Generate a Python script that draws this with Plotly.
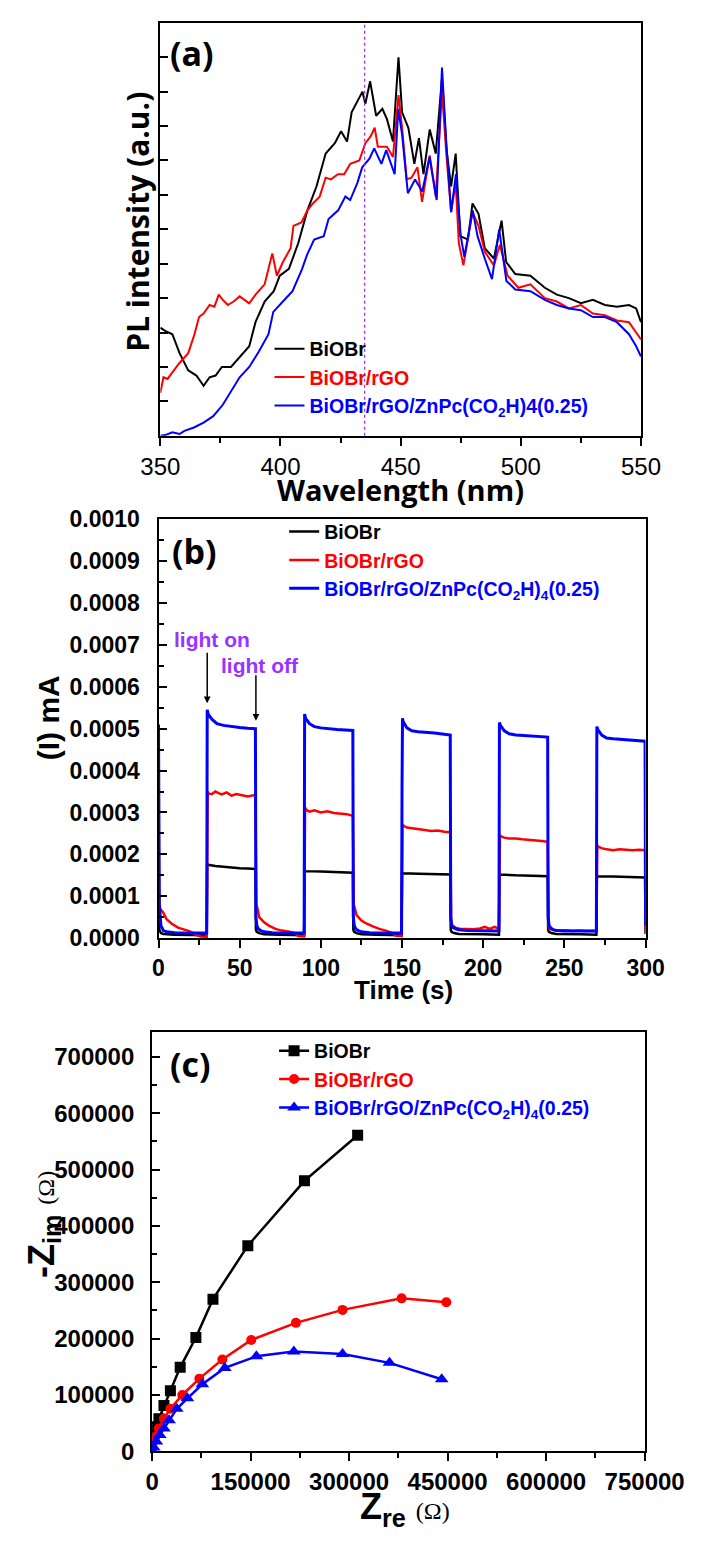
import plotly.graph_objects as go

W, H = 725, 1542

# ---------------- (a) PL spectra ----------------
pl_wl_black = [350, 352, 355, 358, 361.6, 365, 368, 370.5, 373, 375.6, 379.4, 383, 387, 389.6, 393.4, 397.2,
               399.7, 403.5, 407.4, 411.2, 415, 418.8, 422.6, 425.2, 427.7, 429.6, 432, 434.1, 435.3, 437.3,
               439.8, 442.4, 444.3, 446.8, 449.1, 450.6, 453.2, 455.7, 457.6, 459.5, 462.1, 464.6, 467.2,
               469.1, 471, 472.9, 474.8, 478, 479.9, 482.4, 485, 488.8, 492, 493.9, 497.7, 504, 510, 515,
               520, 525, 530, 535, 540, 545, 548, 550]
pl_int_black = [3.14, 3.05, 2.95, 2.4, 1.9, 1.75, 1.45, 1.7, 1.75, 2.0, 2.0, 2.3, 2.6, 3.3, 3.9, 4.2,
                4.65, 4.85, 5.6, 6.55, 7.25, 8.2, 8.5, 8.85, 8.55, 9.4, 9.7, 10.0, 9.65, 10.3,
                9.3, 9.5, 9.2, 8.55, 11.0, 9.4, 8.95, 7.9, 8.65, 7.6, 8.9, 8.2, 10.4,
                8.3, 7.25, 8.2, 5.8, 5.7, 6.75, 6.45, 5.45, 5.15, 6.25, 5.05, 4.7, 4.65, 4.3, 4.1,
                4.0, 3.85, 3.95, 3.8, 3.75, 3.8, 3.7, 3.3]

pl_wl_red = [350, 351.3, 353, 355, 357.8, 361.6, 364.2, 366.1, 368, 370.5, 372.5, 374.3, 376, 378.1, 380.5,
             383, 385, 387, 389.6, 393.4, 396.6, 398.5, 401, 404.2, 405.4, 408.7, 411.2, 413.5, 416.3,
             418.8, 421, 423.9, 426.5, 429, 432.8, 435.3, 437.5, 439.2, 440.5, 444.3, 446.8, 449.1,
             450.6, 452.5, 454.5, 457, 458.9, 462.1, 464.6, 467.2, 469.1, 471, 472.9, 474.2, 476.1,
             479.9, 482.4, 485, 488.8, 491.3, 494.5, 499, 504, 510, 515, 520, 525, 530, 535, 540, 545, 550]
pl_int_red = [1.25, 1.7, 1.65, 1.85, 2.1, 2.4, 2.95, 3.45, 3.55, 3.8, 3.75, 4.1, 3.95, 3.8, 3.9,
              4.05, 3.95, 3.85, 4.1, 4.4, 5.3, 4.65, 5.05, 5.45, 6.1, 6.2, 6.55, 6.75, 6.95,
              7.5, 7.45, 7.6, 7.6, 7.9, 8.0, 8.5, 8.7, 8.95, 8.4, 8.4, 8.1, 9.9,
              8.95, 7.45, 7.5, 7.8, 6.8, 8.15, 6.95, 10.0, 8.1, 6.5, 7.35, 5.6, 4.95,
              6.5, 6.1, 5.35, 4.95, 5.55, 4.65, 4.3, 4.4, 4.0, 3.9, 3.7, 3.8, 3.55, 3.5, 3.35, 3.3, 2.8]

pl_wl_blue = [350, 352, 355, 358, 360, 364, 368, 372, 376, 379, 383, 387, 391, 395, 397, 401, 405, 409,
              411, 414, 418, 420, 424, 427, 429, 432, 434, 437, 439, 442, 444, 447.5, 449, 450.6, 453,
              456, 459, 462, 465, 467.2, 469, 471, 473, 475, 476.5, 480, 482, 485, 488, 491, 494, 497.7,
              504, 510, 515, 520, 525, 530, 535, 540, 545, 548, 550]
pl_int_blue = [0.0, 0.02, 0.1, 0.05, 0.14, 0.24, 0.38, 0.57, 0.9, 1.24, 1.7, 2.0, 2.45, 2.95, 3.6, 3.9, 4.2, 4.85,
               5.25, 5.7, 5.8, 6.3, 6.55, 6.95, 6.85, 7.35, 7.8, 8.05, 8.35, 7.9, 8.3, 7.6, 9.5, 8.75, 7.05,
               7.45, 7.1, 8.1, 6.85, 10.7, 8.5, 6.5, 7.6, 5.8, 5.2, 6.55, 5.8, 5.15, 4.55, 6.0, 4.5, 4.25,
               4.2, 3.95, 3.8, 3.7, 3.65, 3.45, 3.45, 3.3, 2.95, 2.6, 2.3]
pl_marker_wavelength = 435

# ---------------- (b) photocurrent ----------------
it_t_black = [0, 0.5, 1.5, 3, 10, 20, 29.7,
              30, 30.5, 35, 40, 45, 50, 55, 59.7,
              60, 60.5, 62, 65, 75, 89.7,
              90, 90.5, 100, 110, 119.7,
              120, 120.5, 122, 125, 135, 149.7,
              150, 150.5, 160, 170, 179.7,
              180, 180.5, 182, 185, 200, 209.7,
              210, 210.5, 220, 230, 239.7,
              240, 240.5, 242, 245, 260, 269.7,
              270, 270.5, 280, 290, 299.7, 300]
it_i_black = [0.00016, 0.00002, 0.000012, 0.00001, 0.000008, 0.000007, 0.000007,
              0.000176, 0.000175, 0.000172, 0.00017, 0.000169, 0.000167, 0.000166, 0.000165,
              0.00002, 0.000015, 0.000012, 0.000009, 0.000008, 0.000007,
              0.000161, 0.00016, 0.000159, 0.000158, 0.000156,
              0.00002, 0.000015, 0.000012, 0.000009, 0.000008, 0.000007,
              0.000156, 0.000155, 0.000154, 0.000153, 0.000152,
              0.00002, 0.000015, 0.000012, 0.00001, 0.000009, 0.000008,
              0.000153, 0.000152, 0.00015, 0.000149, 0.000148,
              0.00002, 0.000015, 0.000012, 0.00001, 0.000009, 0.000008,
              0.000149, 0.000148, 0.000147, 0.000146, 0.000145, 0.00001]

it_t_red = [0, 0.4, 1, 3, 5, 8, 12, 15, 18, 20, 23, 26, 29.7,
            30.3, 31, 33, 35, 37, 39, 42, 45, 48, 51, 55, 59.7,
            60.3, 61, 62, 65, 68, 72, 76, 80, 84, 86, 89.7,
            90.3, 91, 93, 96, 100, 104, 108, 112, 116, 119.7,
            120.3, 121, 122, 125, 128, 132, 136, 140, 144, 146, 149.7,
            150.3, 151, 153, 156, 160, 164, 168, 172, 176, 179.7,
            180.3, 181, 183, 186, 190, 194, 198, 201, 204, 207, 209.7,
            210.3, 211, 213, 216, 220, 224, 228, 232, 236, 239.7,
            240.3, 241, 243, 247, 251, 255, 259, 263, 267, 269.7,
            270.3, 271, 273, 276, 280, 284, 288, 292, 296, 299.7, 300]
it_i_red = [0.00036, 0.00009, 0.00007, 0.00006, 0.000045, 0.000035, 0.000025, 0.000022, 0.000018, 0.000015, 0.000008, 0.000004, 0.000003,
            0.00035, 0.000345, 0.000344, 0.00035, 0.000346, 0.000343, 0.000348, 0.00034, 0.000344, 0.000341, 0.000338, 0.000342,
            0.00008, 0.00007, 0.00005, 0.000038, 0.00003, 0.000022, 0.000018, 0.000016, 0.000012, 0.000005, 0.000004,
            0.000312, 0.000306, 0.000302, 0.000305, 0.0003, 0.000303, 0.000299, 0.000298, 0.000296, 0.000292,
            0.00008, 0.00007, 0.000055, 0.000042, 0.000035, 0.000028, 0.000022, 0.000018, 0.000012, 0.000006, 0.000005,
            0.000272, 0.000268, 0.000264, 0.000262, 0.00026, 0.000258, 0.000256, 0.000257, 0.000254, 0.000253,
            0.00004, 0.00003, 0.000025, 0.000022, 0.000022, 0.000021, 0.000023, 0.000027, 0.000022, 0.000027, 0.000022,
            0.000246, 0.000243, 0.00024, 0.000238, 0.000238, 0.000236, 0.000235, 0.000233, 0.000232, 0.00023,
            0.00003, 0.000022, 0.00002, 0.000018, 0.000019, 0.000017, 0.000018, 0.000017, 0.000018, 0.000017,
            0.000222, 0.000218, 0.000215, 0.000212, 0.00021, 0.000212, 0.000211, 0.00021, 0.000211, 0.00021, 0.00002]

it_t_blue = [0, 0.5, 1.5, 3, 5, 10, 20, 29.7,
             30, 30.6, 33, 36, 40, 45, 50, 55, 59.7,
             60, 60.6, 61.5, 63, 65, 70, 80, 89.7,
             90, 90.6, 93, 96, 100, 110, 119.7,
             120, 120.6, 121.5, 123, 125, 130, 140, 149.7,
             150, 150.3, 150.6, 153, 156, 160, 170, 179.7,
             180, 180.6, 181.5, 183, 185, 190, 200, 209.7,
             210, 210.6, 213, 216, 220, 230, 239.7,
             240, 240.6, 241.5, 243, 245, 250, 260, 269.7,
             270, 270.6, 273, 276, 280, 290, 299.7, 300]
it_i_blue = [0.00051, 0.00008, 0.00003, 0.000018, 0.000015, 0.000013, 0.000012, 0.000012,
             0.000545, 0.000535, 0.000522, 0.000512, 0.000508, 0.000505, 0.000503, 0.000501, 0.0005,
             0.00005, 0.00003, 0.000022, 0.000018, 0.000015, 0.000013, 0.000012, 0.000012,
             0.000535, 0.000525, 0.000512, 0.000505, 0.000502, 0.000498, 0.000496,
             0.00005, 0.00003, 0.000022, 0.000018, 0.000015, 0.000013, 0.000012, 0.000012,
             0.00036, 0.000525, 0.000518, 0.000502, 0.000495, 0.000493, 0.00049, 0.000485,
             0.00005, 0.00003, 0.000025, 0.000022, 0.00002, 0.000018, 0.000017, 0.000017,
             0.000515, 0.000508, 0.000495, 0.000488, 0.000485, 0.000482, 0.00048,
             0.00005, 0.00003, 0.000025, 0.00002, 0.000018, 0.000017, 0.000017, 0.000017,
             0.000505, 0.000498, 0.000485, 0.000478, 0.000476, 0.000473, 0.00047, 0.00003]
light_on_t, light_on_tip = 30, 0.000561
light_off_t, light_off_tip = 60, 0.000519

# ---------------- (c) Nyquist ----------------
eis_zre_black = [1500, 5200, 10400, 18100, 27900, 42800, 66700, 92700, 145800, 232000, 313000]
eis_zim_black = [28000, 43600, 58000, 81400, 107600, 149000, 202000, 270000, 365000, 480000, 561000]
eis_zre_red = [1000, 5000, 10400, 18000, 27900, 46000, 72000, 107000, 151000, 219000, 290000, 380000, 448000]
eis_zim_red = [16000, 26000, 40700, 58000, 75600, 100000, 129000, 163000, 197700, 228000, 251000, 271500, 264500]
eis_zre_blue = [600, 2600, 6500, 11700, 18100, 25900, 37600, 53800, 76500, 110800, 158800, 215800, 290000, 361500, 441000]
eis_zim_blue = [0, 7000, 17400, 29000, 40700, 55000, 75600, 94000, 119000, 148000, 168600, 177300, 172700, 157000, 128000]

colors = ["#000000", "#ff0000", "#0000ff"]
names_a = ["BiOBr", "BiOBr/rGO", "BiOBr/rGO/ZnPc(CO<sub>2</sub>H)4(0.25)"]
names_bc = ["BiOBr", "BiOBr/rGO", "BiOBr/rGO/ZnPc(CO<sub>2</sub>H)<sub>4</sub>(0.25)"]


def px(x):
    return x / W


def py(y):
    return 1 - y / H


def colored(name, c):
    return f"<span style='color:{c}'>{name}</span>"


fig = go.Figure()

# (a)
for xs, ys, c, n in zip([pl_wl_black, pl_wl_red, pl_wl_blue], [pl_int_black, pl_int_red, pl_int_blue], colors, names_a):
    fig.add_trace(go.Scatter(x=xs, y=ys, mode="lines", line=dict(color=c, width=2),
                             name=colored(n, c), xaxis="x", yaxis="y", legend="legend"))
# (b)
for xs, ys, c, n, w in zip([it_t_black, it_t_red, it_t_blue], [it_i_black, it_i_red, it_i_blue], colors, names_bc,
                           [2.5, 2.5, 3]):
    fig.add_trace(go.Scatter(x=xs, y=ys, mode="lines", line=dict(color=c, width=w),
                             name=colored(n, c), xaxis="x2", yaxis="y2", legend="legend2"))
# (c)
for xs, ys, c, n, sym, sz in zip([eis_zre_black, eis_zre_red, eis_zre_blue], [eis_zim_black, eis_zim_red, eis_zim_blue],
                                 colors, names_bc, ["square", "circle", "triangle-up"], [11, 10, 12]):
    fig.add_trace(go.Scatter(x=xs, y=ys, mode="lines+markers", line=dict(color=c, width=2.5),
                             marker=dict(symbol=sym, size=sz, color=c),
                             name=colored(n, c), xaxis="x3", yaxis="y3", legend="legend3"))

# dotted marker line in (a)
fig.add_shape(type="line", xref="x", yref="y domain", x0=pl_marker_wavelength, x1=pl_marker_wavelength,
              y0=0, y1=1, line=dict(color="#9933ff", width=1.3, dash="dot"))

base = dict(showline=True, linecolor="black", linewidth=2, mirror=True, showgrid=False, zeroline=False,
            tickcolor="black", tickwidth=2)
reg = dict(family="Liberation Sans", size=24, color="black")
bold23 = dict(family="Liberation Sans", size=23, color="black", weight="bold")
bold24 = dict(family="Liberation Sans", size=24, color="black", weight="bold")
legfont = dict(family="Liberation Sans", size=19.5, weight="bold")

fig.update_layout(
    width=W, height=H, margin=dict(l=0, r=0, t=0, b=0),
    paper_bgcolor="white", plot_bgcolor="white", showlegend=True,
    xaxis=dict(base, domain=[px(153), px(677)], range=[350, 550], anchor="y", tick0=350, dtick=50,
               ticks="outside", ticklen=8, tickfont=reg,
               minor=dict(dtick=25, ticks="outside", ticklen=5, tickwidth=2, tickcolor="black")),
    yaxis=dict(base, domain=[py(430), py(10)], range=[0, 12], anchor="x", tick0=0, dtick=1,
               ticks="inside", ticklen=8, showticklabels=False),
    xaxis2=dict(base, domain=[px(151), px(682)], range=[0, 300], anchor="y2", tick0=0, dtick=50,
                ticks="outside", ticklen=8, tickfont=bold23,
                minor=dict(dtick=25, ticks="outside", ticklen=5, tickwidth=2, tickcolor="black")),
    yaxis2=dict(base, domain=[py(941), py(515)], range=[0, 0.001], anchor="x2", tick0=0, dtick=0.0001,
                tickformat=".4f", ticks="inside", ticklen=8, tickfont=bold23, ticklabelstandoff=12,
                minor=dict(dtick=0.00005, ticks="inside", ticklen=5, tickwidth=2, tickcolor="black")),
    xaxis3=dict(base, domain=[px(144), px(681)], range=[0, 750000], anchor="y3", tick0=0, dtick=150000,
                tickformat="d", ticks="outside", ticklen=8, tickfont=bold24,
                minor=dict(dtick=75000, ticks="outside", ticklen=5, tickwidth=2, tickcolor="black")),
    yaxis3=dict(base, domain=[py(1463), py(1036)], range=[0, 745000], anchor="x3", tick0=0, dtick=100000,
                tickformat="d", ticks="inside", ticklen=8, tickfont=bold24, ticklabelstandoff=11,
                minor=dict(dtick=50000, ticks="inside", ticklen=5, tickwidth=2, tickcolor="black")),
    legend=dict(x=px(272), y=py(322), xanchor="left", yanchor="top", bgcolor="rgba(0,0,0,0)",
                font=legfont, itemwidth=30, tracegroupgap=0),
    legend2=dict(x=px(288), y=py(508), xanchor="left", yanchor="top", bgcolor="rgba(0,0,0,0)",
                 font=legfont, itemwidth=30, tracegroupgap=0),
    legend3=dict(x=px(277), y=py(1036), xanchor="left", yanchor="top", bgcolor="rgba(0,0,0,0)",
                 font=legfont, itemwidth=30, tracegroupgap=0),
)

ann = []


def text_ann(txt, x, y, size, family="Liberation Sans", angle=0, color="black", weight="bold"):
    ann.append(dict(text=txt, x=px(x), y=py(y), xref="paper", yref="paper", xanchor="center", yanchor="middle",
                    showarrow=False, textangle=angle,
                    font=dict(family=family, size=size, color=color, weight=weight)))


# panel letters
text_ann("(a)", 187, 41, 34, family="Open Sans")
text_ann("(b)", 190, 547, 34, family="Open Sans")
text_ann("(c)", 186, 1069, 34, family="Open Sans")
# axis titles
text_ann("PL intensity (a.u.)", 128, 212, 30, family="Open Sans", angle=-90)
text_ann("Wavelength (nm)", 415, 485, 29, family="Open Sans")
text_ann("(I) mA", 32, 717, 30, angle=-90)
text_ann("Time (s)", 418, 994, 26)
omega = "<span style='font-family:Liberation Serif;font-size:24px;font-weight:normal'>(Ω)</span>"
text_ann("-Z<sub>im</sub> " + omega, 26, 1232, 36, angle=-90)
text_ann("Z<sub>re</sub> " + omega, 420, 1522, 36)
# light on / off
text_ann("light on", 209, 637, 21, color="#9933ff")
text_ann("light off", 262, 664, 21, color="#9933ff")
for t, tip, length in [(light_on_t, light_on_tip, 52), (light_off_t, light_off_tip, 47)]:
    ann.append(dict(x=t, y=tip, xref="x2", yref="y2", ax=0, ay=-length, axref="pixel", ayref="pixel",
                    text="", showarrow=True, arrowhead=2, arrowsize=0.9, arrowwidth=1.5, arrowcolor="black",
                    standoff=0))

fig.update_layout(annotations=ann)
fig.write_html("out.html", config={"displayModeBar": False},
               post_script="document.body.style.margin='0px';")
